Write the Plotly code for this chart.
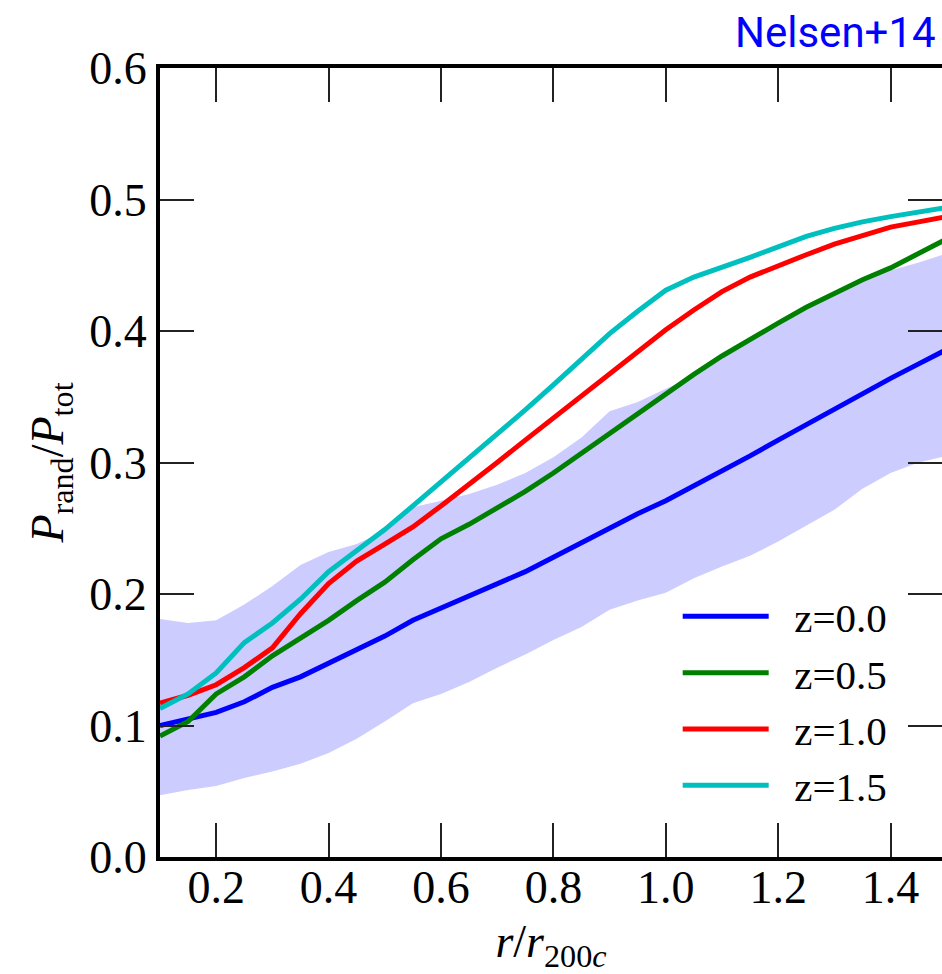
import plotly.graph_objects as go

r = [0.10, 0.15, 0.20, 0.25, 0.30, 0.35, 0.40, 0.45, 0.50, 0.55, 0.60, 0.65, 0.70, 0.75, 0.80,
     0.85, 0.90, 0.95, 1.00, 1.05, 1.10, 1.15, 1.20, 1.25, 1.30, 1.35, 1.40, 1.45, 1.50]

z00 = [0.100, 0.105, 0.110, 0.118, 0.129, 0.137, 0.147, 0.157, 0.168, 0.180, 0.189, 0.198, 0.207, 0.217, 0.228,
       0.239, 0.251, 0.261, 0.271, 0.282, 0.293, 0.305, 0.317, 0.329, 0.341, 0.353, 0.364, 0.375, 0.386]
z05 = [0.092, 0.103, 0.124, 0.137, 0.153, 0.166, 0.180, 0.195, 0.209, 0.226, 0.242, 0.253, 0.265, 0.278, 0.292,
       0.307, 0.323, 0.338, 0.353, 0.367, 0.381, 0.394, 0.406, 0.418, 0.429, 0.439, 0.448, 0.459, 0.470]
z10 = [0.117, 0.123, 0.131, 0.144, 0.159, 0.185, 0.208, 0.225, 0.238, 0.251, 0.267, 0.283, 0.300, 0.317, 0.334,
       0.350, 0.367, 0.384, 0.401, 0.416, 0.430, 0.441, 0.450, 0.458, 0.466, 0.473, 0.479, 0.483, 0.487]
z15 = [0.113, 0.124, 0.140, 0.163, 0.178, 0.196, 0.217, 0.233, 0.249, 0.267, 0.285, 0.304, 0.321, 0.340, 0.359,
       0.379, 0.398, 0.415, 0.431, 0.441, 0.449, 0.456, 0.464, 0.472, 0.478, 0.483, 0.487, 0.490, 0.494]

band_lo = [0.047, 0.051, 0.054, 0.060, 0.065, 0.071, 0.079, 0.090, 0.103, 0.117, 0.124, 0.133, 0.144, 0.154, 0.165,
           0.175, 0.188, 0.195, 0.201, 0.212, 0.221, 0.229, 0.240, 0.252, 0.264, 0.280, 0.292, 0.300, 0.305]
band_hi = [0.181, 0.178, 0.180, 0.192, 0.206, 0.222, 0.232, 0.238, 0.248, 0.266, 0.271, 0.276, 0.283, 0.292, 0.304,
           0.319, 0.339, 0.346, 0.356, 0.366, 0.381, 0.392, 0.404, 0.416, 0.428, 0.438, 0.446, 0.452, 0.459]

series = [("z=0.0", z00, "#0000FF"), ("z=0.5", z05, "#008000"),
          ("z=1.0", z10, "#FF0000"), ("z=1.5", z15, "#00BFBF")]

x_ticks = [0.2, 0.4, 0.6, 0.8, 1.0, 1.2, 1.4]
x_ticklabels = ["0.2", "0.4", "0.6", "0.8", "1.0", "1.2", "1.4"]
y_ticks = [0.0, 0.1, 0.2, 0.3, 0.4, 0.5, 0.6]
y_ticklabels = ["0.0", "0.1", "0.2", "0.3", "0.4", "0.5", "0.6"]

SERIF = "Liberation Serif, Times New Roman, serif"
PAD = "\u00a0\u00a0"  # gap between legend line sample and its label

fig = go.Figure()
fig.add_trace(go.Scatter(x=r, y=band_lo, mode="lines", line=dict(width=0),
                         showlegend=False, hoverinfo="skip"))
fig.add_trace(go.Scatter(x=r, y=band_hi, mode="lines", line=dict(width=0),
                         fill="tonexty", fillcolor="rgba(0,0,255,0.2)",
                         showlegend=False, hoverinfo="skip"))
for name, vals, col in series:
    fig.add_trace(go.Scatter(x=r, y=vals, mode="lines", name=PAD + name,
                             line=dict(color=col, width=5)))
# helper trace so the right-hand tick axis is drawn
fig.add_trace(go.Scatter(x=r[:1], y=[None], yaxis="y2", mode="lines",
                         showlegend=False, hoverinfo="skip"))

tick_style = dict(ticks="inside", ticklen=34, tickwidth=1.5, tickcolor="#222")

fig.update_layout(
    width=942, height=974,
    margin=dict(l=160, r=0, t=68, b=117),
    paper_bgcolor="white", plot_bgcolor="white",
    font=dict(family=SERIF, size=46, color="black"),
    showlegend=True,
    legend=dict(x=0.662, y=0.347, xanchor="left", yanchor="top", traceorder="normal",
                itemwidth=86,
                bgcolor="rgba(0,0,0,0)", borderwidth=0,
                font=dict(family=SERIF, size=41, color="black")),
    xaxis=dict(range=[0.1, 1.4915], tickvals=x_ticks, ticktext=x_ticklabels,
               showline=True, linewidth=4, linecolor="black", mirror="ticks",
               showgrid=False, zeroline=False, ticklabelstandoff=-13,
               title=dict(text="<i>r</i>/<i>r</i><sub>200<i>c</i></sub>", standoff=14,
                          font=dict(family=SERIF, size=46)), **tick_style),
    yaxis=dict(range=[0, 0.6], tickvals=y_ticks, ticktext=y_ticklabels,
               showline=True, linewidth=4, linecolor="black",
               showgrid=False, zeroline=False,
               title=dict(text="<i>P</i><sub>rand</sub>/<i>P</i><sub>tot</sub>", standoff=12,
                          font=dict(family=SERIF, size=46)), **tick_style),
    yaxis2=dict(range=[0, 0.6], overlaying="y", side="right", matches="y",
                tickvals=y_ticks, showticklabels=False, showline=False,
                showgrid=False, zeroline=False, **tick_style),
)

fig.add_annotation(text="Nelsen+14", xref="paper", yref="paper", x=0.995, y=1.045,
                   xanchor="right", yanchor="middle", showarrow=False,
                   font=dict(family="Roboto, sans-serif", size=42, color="#0000FF"))

fig.write_html("out.html")
